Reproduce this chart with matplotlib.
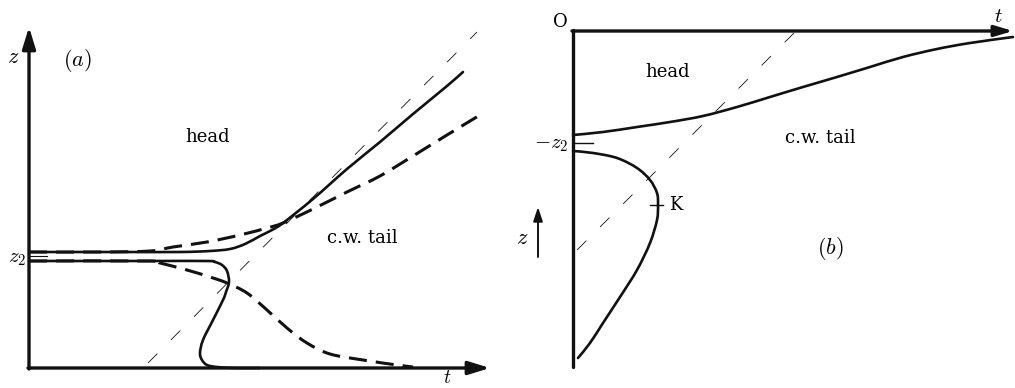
import matplotlib
matplotlib.use("Agg")
import matplotlib.pyplot as plt
from matplotlib.path import Path
from matplotlib.patches import PathPatch

plt.rcParams['mathtext.fontset'] = 'cm'
plt.rcParams['font.family'] = ['DejaVu Serif']
plt.rcParams['lines.scale_dashes'] = False

INK = '#111111'

# ---------------- panel (a): z against t ----------------
a_upper_solid_t = [0.00, 1.82, 3.02, 3.62, 4.02, 4.32, 4.62, 4.86, 5.08, 5.68, 6.36, 7.02, 7.68, 8.36, 8.68]
a_upper_solid_z = [2.32, 2.32, 2.32, 2.34, 2.38, 2.48, 2.64, 2.76, 2.90, 3.38, 3.98, 4.52, 5.08, 5.64, 5.92]

a_upper_dash_t = [0.00, 1.42, 2.42, 2.88, 3.56, 4.22, 4.76, 5.08, 5.68, 6.36, 7.02, 7.68, 8.36, 9.02]
a_upper_dash_z = [2.32, 2.32, 2.34, 2.42, 2.52, 2.66, 2.80, 2.90, 3.18, 3.52, 3.84, 4.24, 4.66, 5.06]

a_lower_solid_t = [0.00, 2.42, 3.56, 3.72, 3.86, 3.96, 4.00, 3.94, 3.88, 3.68, 3.48, 3.42, 3.46, 3.56, 3.76, 4.12, 4.62]
a_lower_solid_z = [2.14, 2.14, 2.14, 2.12, 2.06, 1.94, 1.72, 1.52, 1.36, 0.96, 0.56, 0.30, 0.16, 0.06, 0.02, 0.00, 0.00]

a_lower_dash_t = [0.00, 2.42, 2.62, 3.16, 3.62, 3.96, 4.36, 4.76, 5.16, 5.56, 6.02, 6.68, 7.36, 7.68]
a_lower_dash_z = [2.14, 2.14, 2.10, 1.96, 1.82, 1.70, 1.50, 1.16, 0.80, 0.50, 0.28, 0.16, 0.06, 0.02]

a_guide_t = [2.38, 8.96]
a_guide_z = [0.10, 6.72]

a_z2 = 2.24

# ---------------- panel (b): depth profile ----------------
b_upper_t = [0.00, 0.60, 1.28, 1.94, 2.60, 3.28, 3.94, 4.60, 5.28, 5.94, 6.60, 7.28, 7.94, 8.80]
b_upper_z = [-2.08, -2.02, -1.92, -1.82, -1.70, -1.52, -1.32, -1.12, -0.92, -0.72, -0.52, -0.36, -0.24, -0.12]

b_lower_t = [0.00, 0.40, 0.88, 1.28, 1.54, 1.68, 1.70, 1.68, 1.54, 1.28, 0.94, 0.60, 0.34, 0.10]
b_lower_z = [-2.40, -2.44, -2.54, -2.74, -2.98, -3.24, -3.48, -3.78, -4.24, -4.78, -5.32, -5.84, -6.24, -6.54]

b_guide_t = [0.08, 4.44]
b_guide_z = [-4.38, -0.02]

b_z2 = -2.24
b_K = (1.70, -3.48)


def smooth_path(xs, ys):
    """Cubic Bezier path through the given points (Catmull-Rom tangents)."""
    pts = list(zip(xs, ys))
    n = len(pts)
    verts = [pts[0]]
    codes = [Path.MOVETO]
    for i in range(n - 1):
        p0 = pts[max(i - 1, 0)]
        p1 = pts[i]
        p2 = pts[i + 1]
        p3 = pts[min(i + 2, n - 1)]
        c1 = (p1[0] + (p2[0] - p0[0]) / 6.0, p1[1] + (p2[1] - p0[1]) / 6.0)
        c2 = (p2[0] - (p3[0] - p1[0]) / 6.0, p2[1] - (p3[1] - p1[1]) / 6.0)
        verts += [c1, c2, p2]
        codes += [Path.CURVE4] * 3
    return Path(verts, codes)


def curve(ax, xs, ys, dashed=False):
    if dashed:
        style = dict(lw=2.2, linestyle=(0, (13, 6.5)), capstyle='butt')
    else:
        style = dict(lw=1.9, capstyle='round', joinstyle='round')
    ax.add_patch(PathPatch(smooth_path(xs, ys), facecolor='none', edgecolor=INK, **style))


fig = plt.figure(figsize=(10.15, 3.88), dpi=100)
ax_a = fig.add_axes([0, 0, 505 / 1015, 1])
ax_a.set_xlim(-0.58, 9.52)
ax_a.set_ylim(-0.40, 7.36)
ax_b = fig.add_axes([505 / 1015, 0, 510 / 1015, 1])
ax_b.set_xlim(-1.36, 8.84)
ax_b.set_ylim(-7.14, 0.62)
for ax in (ax_a, ax_b):
    ax.axis('off')

arrow_big = dict(arrowstyle='-|>,head_length=0.65,head_width=0.2', lw=2.4,
                 color=INK, shrinkA=0, shrinkB=0, mutation_scale=20)
arrow_mid = dict(arrowstyle='-|>,head_length=0.6,head_width=0.18', lw=2.4,
                 color=INK, shrinkA=0, shrinkB=0, mutation_scale=18)
thin_dash_kw = dict(color=INK, lw=0.6, dashes=(9.5, 14))

# --- panel (a)
ax_a.annotate('', xy=(0, 6.82), xytext=(0, -0.02), arrowprops=arrow_big)
ax_a.annotate('', xy=(9.22, 0), xytext=(-0.02, 0), arrowprops=arrow_big)

ax_a.plot(a_guide_t, a_guide_z, **thin_dash_kw)
curve(ax_a, a_upper_solid_t, a_upper_solid_z)
curve(ax_a, a_upper_dash_t, a_upper_dash_z, dashed=True)
curve(ax_a, a_lower_solid_t, a_lower_solid_z)
curve(ax_a, a_lower_dash_t, a_lower_dash_z, dashed=True)
ax_a.plot([0, 0.36], [a_z2, a_z2], color=INK, lw=0.8)

ax_a.text(-0.32, 6.22, '$z$', fontsize=16, ha='center', va='center')
ax_a.text(0.96, 6.16, '$(a)$', fontsize=16, ha='center', va='center')
ax_a.text(-0.24, a_z2 - 0.04, '$z_2$', fontsize=15, ha='center', va='center')
ax_a.text(8.36, -0.385, '$t$', fontsize=14, ha='center', va='bottom')
ax_a.text(3.58, 4.62, 'head', fontsize=13, ha='center', va='center')
ax_a.text(6.66, 2.60, 'c.w. tail', fontsize=13, ha='center', va='center')

# --- panel (b)
ax_b.plot([0, 0], [0.02, -6.72], color=INK, lw=2.4, solid_capstyle='round')
ax_b.annotate('', xy=(8.80, 0), xytext=(-0.02, 0), arrowprops=arrow_mid)

ax_b.plot(b_guide_t, b_guide_z, **thin_dash_kw)
curve(ax_b, b_upper_t, b_upper_z)
curve(ax_b, b_lower_t, b_lower_z)
ax_b.plot([0, 0.40], [b_z2, b_z2], color=INK, lw=1.0)
ax_b.plot([b_K[0] - 0.16, b_K[0] + 0.10], [b_K[1], b_K[1]], color=INK, lw=1.0)

ax_b.annotate('', xy=(-0.70, -3.52), xytext=(-0.70, -4.52),
              arrowprops=dict(arrowstyle='-|>,head_length=0.6,head_width=0.2', lw=1.4,
                              color=INK, shrinkA=0, shrinkB=0, mutation_scale=14))

ax_b.text(-0.26, 0.18, 'O', fontsize=13, ha='center', va='center')
ax_b.text(8.50, 0.30, '$t$', fontsize=15, ha='center', va='center')
ax_b.text(-0.10, b_z2 - 0.02, '$-z_2$', fontsize=15, ha='right', va='center')
ax_b.text(b_K[0] + 0.22, b_K[1], 'K', fontsize=13, ha='left', va='center')
ax_b.text(-1.02, -4.14, '$z$', fontsize=16, ha='center', va='center')
ax_b.text(1.90, -0.82, 'head', fontsize=13, ha='center', va='center')
ax_b.text(4.94, -2.14, 'c.w. tail', fontsize=13, ha='center', va='center')
ax_b.text(5.14, -4.34, '$(b)$', fontsize=16, ha='center', va='center')

fig.savefig('out.png', dpi=100, facecolor='white')
